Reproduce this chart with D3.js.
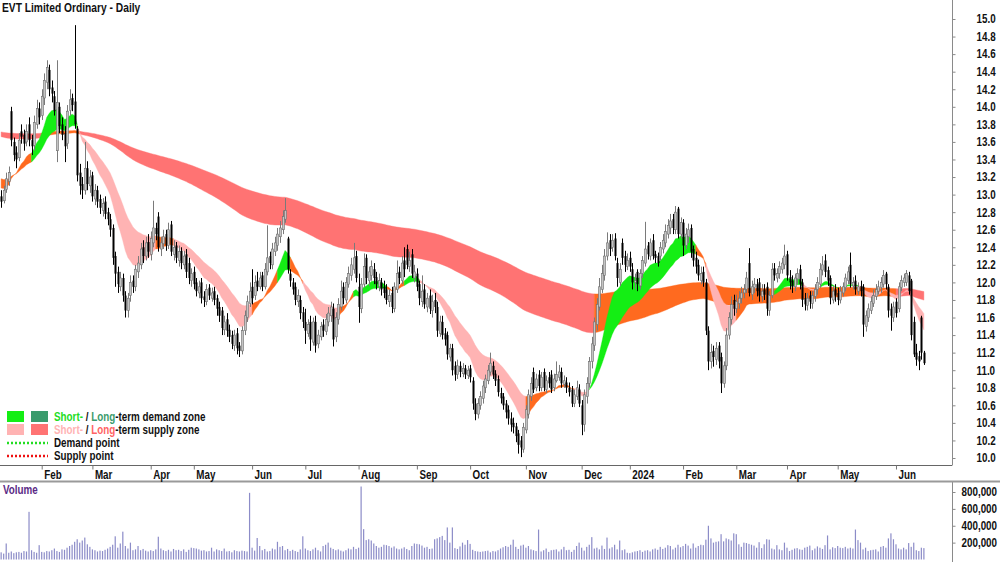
<!DOCTYPE html>
<html>
<head>
<meta charset="utf-8">
<title>EVT Limited Ordinary - Daily</title>
<script src="https://d3js.org/d3.v7.min.js"></script>
<style>
  body { margin: 0; background: #fff; }
  svg text { font-family: "Liberation Sans", Arial, sans-serif; font-weight: bold; font-size: 12px; }
</style>
</head>
<body>
<svg id="chart" width="1000" height="562"></svg>
<script>
// ---- data ----
var monthIdx    = [16, 36, 59, 76, 99, 120, 141, 164, 185, 207, 229, 248, 269, 290, 310, 330, 353];
var monthLabels = ["Feb","Mar","Apr","May","Jun","Jul","Aug","Sep","Oct","Nov","Dec","2024","Feb","Mar","Apr","May","Jun"];

var opens = [
 12.98,12.93,13.06,13.15,13.95,13.60,13.48,13.42,13.72,13.68,
 13.60,13.80,13.62,13.56,13.80,13.98,13.90,14.10,14.28,14.42,
 14.22,14.12,13.50,14.00,13.80,13.70,13.58,13.96,14.10,14.06,
 13.75,13.25,13.12,13.05,13.30,13.10,13.22,12.95,13.05,12.95,
 12.82,12.92,12.80,12.72,12.62,12.30,12.12,11.95,12.05,11.85,
 11.68,11.85,12.02,11.95,12.12,12.20,12.40,12.30,12.46,12.32,
 12.45,12.62,12.75,12.38,12.44,12.55,12.42,12.66,12.32,12.42,
 12.25,12.36,12.20,12.32,12.22,12.02,12.12,12.00,11.88,12.00,
 11.84,11.78,11.94,11.82,11.90,11.82,11.72,11.68,11.46,11.58,
 11.46,11.40,11.28,11.42,11.28,11.22,11.45,11.60,11.76,11.95,
 11.85,12.02,11.95,12.08,11.95,12.12,12.30,12.20,12.35,12.42,
 12.52,12.60,12.72,12.50,12.10,12.00,11.95,11.78,11.80,11.66,
 11.55,11.42,11.55,11.32,11.55,11.30,11.38,11.52,11.44,11.55,
 11.62,11.70,11.38,11.58,11.72,11.95,11.80,11.98,12.08,12.15,
 12.30,11.95,11.70,11.98,12.28,12.02,12.08,12.15,12.06,11.95,
 12.00,11.95,11.92,11.78,11.88,11.70,11.92,12.12,12.02,12.25,
 12.38,12.18,12.32,12.05,12.10,11.98,11.78,11.92,11.72,11.85,
 11.68,11.80,11.72,11.42,11.55,11.42,11.40,11.15,11.25,11.05,
 10.95,11.05,10.96,11.02,10.94,11.02,10.88,10.62,10.50,10.60,
 10.68,10.80,10.88,10.98,11.05,10.96,10.90,10.74,10.70,10.62,
 10.55,10.45,10.40,10.36,10.28,10.20,10.10,10.32,10.50,10.70,
 10.98,10.80,10.95,10.80,10.98,10.78,10.92,10.95,10.80,10.88,
 10.92,10.98,10.84,10.86,10.80,10.78,10.62,10.70,10.78,10.60,
 10.38,10.70,10.85,11.10,11.28,11.52,11.72,11.92,12.08,12.30,
 12.48,12.40,12.50,12.22,12.00,12.45,12.30,12.18,12.28,12.15,
 12.00,12.12,11.96,12.10,12.22,12.42,12.30,12.48,12.32,12.30,
 12.30,12.38,12.45,12.55,12.62,12.72,12.60,12.84,12.55,12.68,
 12.42,12.52,12.62,12.38,12.28,12.20,12.02,12.12,12.00,11.45,
 11.10,11.22,11.12,11.28,11.15,10.85,11.05,11.40,11.58,11.80,
 11.70,11.76,11.82,11.88,11.92,12.22,11.86,11.94,11.98,12.00,
 11.84,11.92,11.95,11.68,11.85,12.16,12.05,12.10,12.15,12.20,
 12.32,12.06,12.02,11.95,12.04,12.15,12.00,11.82,11.74,11.85,
 11.76,11.84,11.92,11.98,12.14,12.25,12.14,12.05,11.80,11.92,
 11.88,11.80,11.88,11.94,12.02,12.20,11.96,12.02,11.90,11.96,
 11.95,11.50,11.60,11.68,11.76,11.84,11.90,11.94,11.98,12.10,
 11.95,11.70,11.60,11.78,11.70,11.94,12.00,12.00,12.08,12.02,
 11.55,11.20,11.16,11.60,11.20
];
var highs = [
 13.05,13.10,13.25,13.32,14.00,13.65,13.55,13.70,13.80,13.74,
 13.80,13.88,13.68,13.90,14.08,14.05,14.20,14.38,14.53,14.48,
 14.30,14.18,14.53,14.05,13.88,13.78,14.02,14.20,14.15,14.93,
 13.78,13.35,13.20,13.60,13.38,13.28,13.26,13.12,13.10,13.00,
 12.96,12.98,12.85,12.78,12.66,12.35,12.18,12.12,12.10,11.90,
 11.88,12.08,12.08,12.20,12.30,12.45,12.48,12.52,12.55,12.58,
 12.93,12.68,12.80,12.52,12.60,12.60,12.68,12.70,12.48,12.46,
 12.42,12.40,12.36,12.38,12.28,12.16,12.18,12.05,12.02,12.05,
 11.90,11.98,11.98,11.94,11.95,11.86,11.78,11.72,11.62,11.65,
 11.52,11.45,11.46,11.48,11.32,11.50,11.68,11.85,12.00,12.15,
 12.08,12.12,12.12,12.12,12.22,12.65,12.35,12.45,12.52,12.62,
 12.70,12.82,12.96,12.52,12.15,12.05,12.00,11.92,11.85,11.72,
 11.70,11.58,11.62,11.60,11.62,11.46,11.55,11.58,11.64,11.72,
 11.78,11.76,11.66,11.82,12.02,12.00,12.06,12.18,12.28,12.45,
 12.36,12.10,12.05,12.33,12.32,12.18,12.25,12.22,12.12,12.10,
 12.05,12.02,11.98,11.92,11.95,12.00,12.25,12.18,12.30,12.40,
 12.43,12.35,12.38,12.20,12.16,12.02,12.08,11.98,11.88,11.92,
 11.86,11.88,11.78,11.62,11.62,11.48,11.44,11.30,11.30,11.10,
 11.12,11.10,11.08,11.06,11.05,11.06,10.92,10.68,10.68,10.76,
 10.88,10.95,11.06,11.20,11.10,11.00,10.94,10.80,10.74,10.66,
 10.60,10.52,10.46,10.40,10.32,10.25,10.40,10.60,10.78,10.92,
 11.03,10.96,11.00,10.98,11.02,10.94,10.98,11.00,10.96,11.10,
 11.06,11.03,10.94,10.92,10.86,10.82,10.78,10.88,10.84,10.66,
 10.78,10.92,11.15,11.38,11.60,11.82,12.05,12.20,12.38,12.57,
 12.55,12.55,12.56,12.28,12.22,12.50,12.36,12.33,12.35,12.22,
 12.10,12.15,12.15,12.30,12.69,12.46,12.50,12.55,12.36,12.34,
 12.46,12.55,12.66,12.72,12.78,12.78,12.87,12.86,12.74,12.72,
 12.62,12.67,12.66,12.42,12.35,12.26,12.18,12.18,12.04,11.50,
 11.30,11.28,11.32,11.32,11.20,11.10,11.48,11.66,11.84,11.86,
 11.86,11.90,11.95,11.98,12.12,12.39,12.02,12.05,12.04,12.05,
 11.98,11.98,12.00,11.90,12.22,12.22,12.16,12.24,12.28,12.43,
 12.36,12.14,12.08,12.10,12.16,12.20,12.04,11.88,11.88,11.90,
 11.90,11.98,12.06,12.22,12.30,12.32,12.18,12.08,11.96,11.98,
 11.94,11.96,12.00,12.10,12.18,12.34,12.06,12.08,12.00,12.02,
 11.98,11.68,11.76,11.84,11.92,11.98,12.02,12.06,12.14,12.12,
 11.98,11.76,11.78,11.82,12.00,12.08,12.10,12.14,12.12,12.04,
 11.61,11.30,11.22,11.62,11.22
];
var lows = [
 12.85,12.90,13.02,13.10,13.55,13.38,13.30,13.38,13.58,13.50,
 13.55,13.55,13.45,13.50,13.75,13.80,13.85,14.02,14.20,14.12,
 14.05,13.90,13.37,13.70,13.62,13.37,13.52,13.90,13.95,13.75,
 13.15,13.00,12.95,13.00,13.05,13.02,12.92,12.88,12.85,12.78,
 12.75,12.72,12.65,12.52,12.20,11.95,11.88,11.90,11.78,11.60,
 11.60,11.78,11.88,11.90,12.05,12.15,12.22,12.25,12.28,12.25,
 12.40,12.48,12.35,12.30,12.38,12.36,12.38,12.30,12.25,12.22,
 12.18,12.15,12.15,12.05,11.98,11.95,11.92,11.84,11.82,11.76,
 11.72,11.74,11.80,11.78,11.74,11.62,11.55,11.40,11.40,11.38,
 11.32,11.24,11.22,11.18,11.15,11.18,11.40,11.55,11.72,11.75,
 11.80,11.90,11.92,11.90,11.92,12.08,12.15,12.15,12.30,12.36,
 12.45,12.55,12.68,12.10,11.95,11.86,11.74,11.72,11.58,11.48,
 11.30,11.38,11.22,11.28,11.20,11.25,11.34,11.38,11.40,11.50,
 11.55,11.27,11.32,11.52,11.68,11.75,11.76,11.94,12.02,12.10,
 12.00,11.54,11.65,11.94,11.98,11.96,12.02,11.98,11.92,11.90,
 11.85,11.82,11.75,11.72,11.65,11.66,11.88,11.98,11.98,12.06,
 12.15,12.12,12.05,12.00,11.90,11.74,11.72,11.70,11.66,11.64,
 11.60,11.65,11.38,11.38,11.35,11.28,11.12,11.10,10.94,10.88,
 10.90,10.92,10.92,10.90,10.90,10.86,10.55,10.43,10.45,10.55,
 10.62,10.74,10.84,10.94,10.90,10.82,10.70,10.62,10.55,10.45,
 10.38,10.30,10.28,10.18,10.05,10.01,10.06,10.28,10.45,10.65,
 10.74,10.76,10.76,10.76,10.76,10.74,10.80,10.74,10.76,10.86,
 10.88,10.80,10.80,10.74,10.70,10.58,10.58,10.66,10.58,10.26,
 10.30,10.62,10.80,11.02,11.22,11.45,11.68,11.88,12.02,12.25,
 12.30,12.35,12.25,11.95,11.96,12.20,12.12,12.14,12.12,11.92,
 11.92,11.90,11.92,12.05,12.18,12.26,12.25,12.26,12.22,12.18,
 12.25,12.33,12.40,12.50,12.55,12.55,12.55,12.50,12.50,12.30,
 12.38,12.45,12.28,12.18,12.10,12.02,11.98,11.95,11.40,11.00,
 11.02,11.04,11.06,11.02,10.74,10.80,11.00,11.35,11.52,11.62,
 11.65,11.70,11.76,11.82,11.88,11.84,11.80,11.88,11.84,11.78,
 11.78,11.80,11.62,11.62,11.82,12.02,12.00,12.04,12.10,12.15,
 12.02,11.92,11.88,11.90,11.98,11.92,11.72,11.68,11.68,11.70,
 11.70,11.78,11.86,11.94,12.08,12.06,11.96,11.75,11.76,11.78,
 11.74,11.76,11.84,11.90,11.98,11.94,11.92,11.86,11.86,11.84,
 11.38,11.44,11.55,11.64,11.72,11.80,11.86,11.88,11.94,11.92,
 11.60,11.45,11.55,11.60,11.66,11.90,11.95,11.96,11.86,11.34,
 11.15,11.05,11.00,11.12,11.06
];
var closes = [
 12.92,13.05,13.18,13.25,13.62,13.45,13.40,13.62,13.66,13.58,
 13.72,13.62,13.55,13.82,13.98,13.88,14.12,14.30,14.45,14.20,
 14.15,13.95,14.05,13.78,13.68,13.55,13.95,14.08,14.02,13.80,
 13.22,13.10,13.05,13.30,13.12,13.20,12.98,13.05,12.92,12.85,
 12.90,12.78,12.72,12.60,12.28,12.10,11.98,12.05,11.85,11.68,
 11.82,12.00,11.95,12.15,12.22,12.38,12.30,12.45,12.35,12.50,
 12.62,12.55,12.40,12.45,12.52,12.42,12.60,12.35,12.40,12.28,
 12.35,12.22,12.30,12.12,12.05,12.10,11.98,11.90,11.95,11.82,
 11.80,11.92,11.85,11.88,11.80,11.70,11.62,11.48,11.55,11.45,
 11.38,11.30,11.40,11.25,11.22,11.45,11.62,11.78,11.90,11.82,
 12.00,11.95,12.05,11.95,12.15,12.28,12.22,12.38,12.45,12.55,
 12.62,12.75,12.82,12.15,12.02,11.92,11.80,11.85,11.65,11.55,
 11.45,11.52,11.35,11.55,11.28,11.40,11.50,11.45,11.58,11.65,
 11.72,11.35,11.60,11.75,11.90,11.82,12.00,12.10,12.20,12.28,
 12.05,11.72,11.98,12.18,12.05,12.12,12.18,12.05,11.98,12.02,
 11.92,11.88,11.80,11.85,11.72,11.95,12.10,12.05,12.22,12.15,
 12.20,12.25,12.10,12.12,11.95,11.82,11.90,11.75,11.82,11.70,
 11.78,11.72,11.45,11.55,11.40,11.35,11.18,11.25,11.00,10.95,
 11.05,10.98,11.02,10.95,11.00,10.92,10.62,10.50,10.62,10.70,
 10.82,10.90,11.00,11.08,10.95,10.88,10.75,10.68,10.60,10.52,
 10.45,10.38,10.35,10.25,10.15,10.12,10.35,10.55,10.72,10.85,
 10.78,10.90,10.82,10.92,10.80,10.88,10.85,10.78,10.90,10.95,
 10.98,10.85,10.88,10.80,10.75,10.62,10.72,10.80,10.62,10.38,
 10.72,10.85,11.10,11.30,11.55,11.75,11.95,12.10,12.30,12.45,
 12.38,12.48,12.30,12.05,12.15,12.28,12.20,12.25,12.18,12.00,
 12.02,11.98,12.10,12.25,12.38,12.32,12.45,12.30,12.28,12.22,
 12.40,12.48,12.58,12.65,12.70,12.62,12.80,12.55,12.68,12.42,
 12.55,12.60,12.35,12.25,12.18,12.08,12.10,12.00,11.45,11.10,
 11.20,11.15,11.25,11.10,10.85,11.05,11.40,11.60,11.75,11.70,
 11.78,11.82,11.88,11.92,12.05,11.88,11.95,11.98,11.90,11.85,
 11.90,11.86,11.70,11.85,12.15,12.08,12.10,12.18,12.22,12.30,
 12.08,12.00,11.95,12.05,12.10,11.98,11.80,11.75,11.82,11.78,
 11.85,11.92,12.00,12.15,12.20,12.12,12.02,11.82,11.90,11.85,
 11.80,11.90,11.95,12.05,12.12,11.98,12.00,11.92,11.95,11.90,
 11.52,11.62,11.70,11.78,11.85,11.92,11.95,12.00,12.08,11.98,
 11.68,11.62,11.72,11.65,11.95,12.02,12.05,12.10,11.90,11.40,
 11.18,11.12,11.10,11.20,11.08
];
// volume in thousands of shares
var volumeK = [
  85, 70,190, 80, 95, 75, 85, 90, 80,100,
  95,565,110, 90, 80,170, 90, 85,100, 95,
 110,130,100, 90,120,115,140,160,175,210,
 240,200,225,260,180,150,120,110, 95,105,
 100,115,130,150,175,275,140,190,330,160,
 130,200,110,120,160,110,125,105, 95,110,
 100,120,270,130,110,100,115, 95,125,110,
 115,100,120, 90,115,140,135,130,120,105,
 110, 95,100,140, 95,120,110,100,130, 95,
 100, 85,110,100, 95,105,100, 95,790,140,
 105,255,160,110,125, 95,100,130,120,210,
 150,160,110,125,100,115,100, 90,120,275,
 130,110,100,120,140,110, 95,160,175,200,
 140,125,110,120,105, 95,110,130,120,150,
 125,140,865,360,230,240,225,190,160,140,
 150,175,170,160,140,155,130,120,130,145,
 125,110,160,190,185,180,165,140,150,125,
 130,240,250,265,280,230,380,200,380,135,
 125,155,200,175,230,185,115,100, 95, 90,
  95,100,105, 85,100, 95,110,130,145,160,
 150,175,235,150,125,165,175,140,160,120,
 110,100,355, 95,110,130, 90,110,115,120,
  95,120,150,110,115, 90,115,160,200,140,
 105,150,175,265,130,140,120,165,125,260,
 130,145,175,120,225,110,120, 80, 75, 85,
  95,100,110, 90,105,110, 95,120,130,115,
 150,125,140,170,160,120,140,175,145,160,
 185,165,130,190,140,160,175,170,235,400,
 250,200,210,215,300,215,250,240,225,310,
 300,180,150,200,195,185,175,165,140,205,
 135,180,240,235,130,120,170,120,110,200,
 140,100,115,130,135,120,115,140,150,165,
 110,130,155,140,125,170,285,120,145,135,
 160,140,135,150,130,140,130,355,230,200,
 120,140,100,110,115,120, 95,150,160,140,
 250,310,240,180,130,120,140,120,195,150,
 200,110,100,140,135
];

// ribbon settings: EMA periods and the starting values seen at the left edge
var emaPeriods = { shortFast: 13, shortSlow: 28, longFast: 150, longSlow: 250 };
var emaSeeds   = { shortFast: 13.10, shortSlow: 13.20, longFast: 13.67, longSlow: 13.72 };

// colour state of each ribbon: index where a state starts (d = demand, s = supply, n = neutral)
var shortZoneStart = [0, 12, 30, 61, 68, 99, 109, 114, 119, 133, 139, 152, 159, 165, 207, 226, 232, 274, 278, 290, 305, 316, 323, 330, 332, 338];
var shortZoneState = ["n","d","s","n","s","n","d","n","s","n","d","n","d","s","n","s","d","n","s","n","d","s","d","n","d","s"];
var longZoneStart  = [0, 16, 31, 234, 353];
var longZoneState  = ["s","n","s","n","s"];

var priceTicks = d3.range(0, 26).map(function(k){ return +(10 + k * 0.2).toFixed(1); });
var volTicks   = [200, 400, 600, 800];

// ---- layout ----
var N = closes.length;
var svg = d3.select("#chart");
var axisX = 952, priceBottom = 465.5, volTop = 481.5;
var narrow = 0.82;   // the reference uses a narrow bold face

var x  = d3.scaleLinear().domain([0, 364]).range([1.14, 1.14 + 364 * 2.535]);
var y  = d3.scaleLinear().domain([10, 15]).range([458, 19]);
var yv = d3.scaleLinear().domain([0, 800]).range([559.5, 492]);

function ema(src, period, seed) {
  var a = 2 / (period + 1), v = seed;
  return src.map(function(c){ v = v + a * (c - v); return v; });
}
var sF = ema(closes, emaPeriods.shortFast, emaSeeds.shortFast);
var sS = ema(closes, emaPeriods.shortSlow, emaSeeds.shortSlow);
var lF = ema(closes, emaPeriods.longFast, emaSeeds.longFast);
var lS = ema(closes, emaPeriods.longSlow, emaSeeds.longSlow);

var shortCol = { d: "#14ee14", s: "#ffb3b3", n: "#ff6a1f" };
var longCol  = { d: "#3a9b6c", s: "#ff7373", n: "#ff6a1f" };

svg.append("defs").append("clipPath").attr("id", "plot")
  .append("rect").attr("x", 0).attr("y", 0).attr("width", axisX).attr("height", priceBottom);

var plot = svg.append("g").attr("clip-path", "url(#plot)");

function drawRibbon(fast, slow, starts, states, cols) {
  var area = d3.area().x(function(i){ return x(i); })
    .y0(function(i){ return y(fast[i]); }).y1(function(i){ return y(slow[i]); });
  starts.forEach(function(s, k) {
    var e = k + 1 < starts.length ? starts[k + 1] : N - 1;
    plot.append("path").attr("d", area(d3.range(s, e + 1)))
      .attr("fill", cols[states[k]]).attr("stroke", cols[states[k]]).attr("stroke-width", 0.4);
  });
}
drawRibbon(lF, lS, longZoneStart, longZoneState, longCol);
drawRibbon(sF, sS, shortZoneStart, shortZoneState, shortCol);

// candles
var idx = d3.range(N);
var cg = plot.append("g");
cg.selectAll("line").data(idx).enter().append("line")
  .attr("x1", function(i){ return Math.round(x(i)) + 0.5; })
  .attr("x2", function(i){ return Math.round(x(i)) + 0.5; })
  .attr("y1", function(i){ return y(highs[i]); })
  .attr("y2", function(i){ return y(lows[i]); })
  .attr("stroke", function(i){ return closes[i] >= opens[i] ? "#7a7a7a" : "#000"; })
  .attr("stroke-width", 1);
cg.selectAll("rect").data(idx).enter().append("rect")
  .attr("x", function(i){ return Math.round(x(i)) - 0.5; })
  .attr("width", 2)
  .attr("y", function(i){ return y(Math.max(opens[i], closes[i])); })
  .attr("height", function(i){ return Math.max(1, Math.abs(y(opens[i]) - y(closes[i]))); })
  .attr("fill", function(i){ return closes[i] >= opens[i] ? "#c4c4c4" : "#000"; })
  .attr("stroke", function(i){ return closes[i] >= opens[i] ? "#6e6e6e" : "none"; })
  .attr("stroke-width", 0.6);

// volume bars
svg.append("g").selectAll("rect").data(idx).enter().append("rect")
  .attr("x", function(i){ return x(i) - 0.6; })
  .attr("width", 1.2)
  .attr("y", function(i){ return yv(volumeK[i]); })
  .attr("height", function(i){ return yv(0) - yv(volumeK[i]); })
  .attr("fill", "#8c8cc8");

// frame lines
svg.append("line").attr("x1", axisX + 0.5).attr("x2", axisX + 0.5).attr("y1", 0).attr("y2", priceBottom)
  .attr("stroke", "#8a8a8a");
svg.append("line").attr("x1", axisX + 0.5).attr("x2", axisX + 0.5).attr("y1", volTop).attr("y2", 562)
  .attr("stroke", "#8a8a8a");
svg.append("line").attr("x1", 0).attr("x2", axisX).attr("y1", priceBottom).attr("y2", priceBottom)
  .attr("stroke", "#666");
svg.append("line").attr("x1", 0).attr("x2", 1000).attr("y1", volTop).attr("y2", volTop)
  .attr("stroke", "#9a9a9a").attr("stroke-width", 2);

// price axis
var pAxis = svg.append("g").attr("transform", "translate(" + (axisX + 0.5) + ",0)")
  .call(d3.axisRight(y).tickValues(priceTicks).tickSize(3).tickPadding(21).tickFormat(d3.format(".1f")));
pAxis.select(".domain").remove();
pAxis.selectAll(".tick line").attr("stroke", "#8a8a8a");
pAxis.selectAll("text").attr("fill", "#111").style("font-size", "12px");

// volume axis
var vAxis = svg.append("g").attr("transform", "translate(" + (axisX + 0.5) + ",0)")
  .call(d3.axisRight(yv).tickValues(volTicks).tickSize(3).tickPadding(6)
    .tickFormat(function(d){ return d3.format(",")(d * 1000); }));
vAxis.select(".domain").remove();
vAxis.selectAll(".tick line").attr("stroke", "#8a8a8a");
vAxis.selectAll("text").attr("fill", "#111").style("font-size", "12px");

// date axis
var xAxis = svg.append("g").attr("transform", "translate(0," + priceBottom + ")")
  .call(d3.axisBottom(x).tickValues(monthIdx).tickSize(4)
    .tickFormat(function(d, k){ return monthLabels[k]; }));
xAxis.select(".domain").remove();
xAxis.selectAll(".tick line").attr("stroke", "#777");
xAxis.selectAll("text").attr("text-anchor", "start").attr("x", 2).attr("y", 5)
  .attr("fill", "#111").style("font-size", "12px");

// title and volume label
svg.append("text").attr("x", 2).attr("y", 12).attr("fill", "#111").style("font-size", "12.5px")
  .text("EVT Limited Ordinary - Daily");
svg.append("text").attr("x", 3).attr("y", 494).attr("fill", "#5b2a86").text("Volume");

// legend
var lg = svg.append("g");
lg.append("rect").attr("x", 7).attr("y", 411).attr("width", 17).attr("height", 11).attr("fill", shortCol.d);
lg.append("rect").attr("x", 31).attr("y", 411).attr("width", 17).attr("height", 11).attr("fill", longCol.d);
lg.append("rect").attr("x", 7).attr("y", 424).attr("width", 17).attr("height", 11).attr("fill", shortCol.s);
lg.append("rect").attr("x", 31).attr("y", 424).attr("width", 17).attr("height", 11).attr("fill", longCol.s);
var t1 = lg.append("text").attr("x", 54).attr("y", 421);
t1.append("tspan").attr("fill", "#22dd22").text("Short-");
t1.append("tspan").attr("fill", "#111").text(" / ");
t1.append("tspan").attr("fill", "#3a9b6c").text("Long");
t1.append("tspan").attr("fill", "#111").text("-term demand zone");
var t2 = lg.append("text").attr("x", 54).attr("y", 434);
t2.append("tspan").attr("fill", "#ffb3b3").text("Short-");
t2.append("tspan").attr("fill", "#111").text(" / ");
t2.append("tspan").attr("fill", "#ff6464").text("Long");
t2.append("tspan").attr("fill", "#111").text("-term supply zone");
lg.append("line").attr("x1", 7).attr("x2", 48).attr("y1", 443).attr("y2", 443)
  .attr("stroke", "#22dd22").attr("stroke-width", 2.5).attr("stroke-dasharray", "2,2");
lg.append("line").attr("x1", 7).attr("x2", 48).attr("y1", 456).attr("y2", 456)
  .attr("stroke", "#ee1111").attr("stroke-width", 2.5).attr("stroke-dasharray", "2,2");
lg.append("text").attr("x", 54).attr("y", 447).attr("fill", "#111").text("Demand point");
lg.append("text").attr("x", 54).attr("y", 460).attr("fill", "#111").text("Supply point");

// squeeze every label horizontally around its anchor to mimic the narrow face
svg.selectAll("text").each(function() {
  var t = d3.select(this), x0 = +t.attr("x") || 0;
  t.attr("transform", "translate(" + x0 + ",0) scale(" + narrow + ",1) translate(" + (-x0) + ",0)");
});
</script>
</body>
</html>
